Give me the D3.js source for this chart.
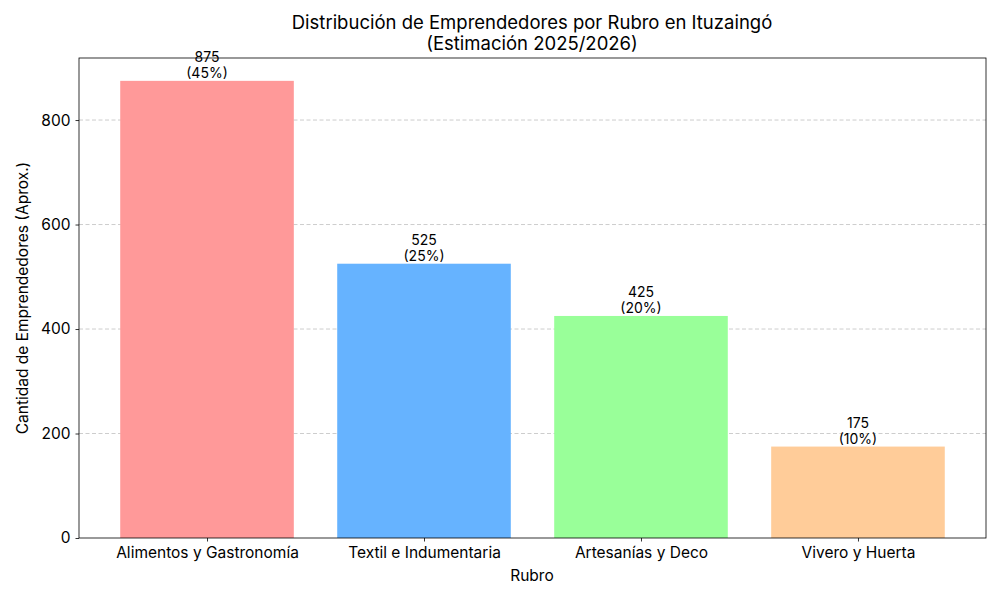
<!DOCTYPE html>
<html><head><meta charset="utf-8">
<script src="https://cdn.jsdelivr.net/npm/d3@7"></script>
<style>body{margin:0;background:#fff;} text{font-family:Inter,"Open Sans",sans-serif;fill:#000;}</style>
</head><body>
<svg id="c" width="1000" height="600"></svg>
<script>
const categories = ["Alimentos y Gastronomía","Textil e Indumentaria","Artesanías y Deco","Vivero y Huerta"];
const values = [875, 525, 425, 175];
const percents = ["45%","25%","20%","10%"];
const colors = ["#ff9999","#66b3ff","#99ff99","#ffcc99"];
const yTicks = [0,200,400,600,800];

const svg = d3.select("#c");
const L=79, R=986, T=58, B=538;
const x = d3.scaleLinear().domain([-0.59, 3.59]).range([L,R]);
const y = d3.scaleLinear().domain([0, 918.75]).range([B,T]);
const bw = x(0.4)-x(-0.4);

// grid
svg.append("g").selectAll("line").data(yTicks.filter(d=>d>0)).join("line")
  .attr("x1",L).attr("x2",R).attr("y1",d=>y(d)).attr("y2",d=>y(d))
  .attr("stroke","#c0c0c0").attr("stroke-width",0.8).attr("stroke-dasharray","4,2.5");

// bars
svg.append("g").selectAll("rect").data(values).join("rect")
  .attr("x",(d,i)=>x(i)-bw/2).attr("width",bw)
  .attr("y",d=>y(d)).attr("height",d=>B-y(d))
  .attr("fill",(d,i)=>colors[i]);

// bar labels
const lab = svg.append("g").selectAll("text").data(values).join("text")
  .attr("text-anchor","middle").attr("font-size",14);
lab.append("tspan").attr("x",(d,i)=>x(i)).attr("y",d=>y(d)-19).text(d=>d);
lab.append("tspan").attr("x",(d,i)=>x(i)).attr("y",d=>y(d)-3).text((d,i)=>"("+percents[i]+")");

// axes
const ya = svg.append("g").attr("transform",`translate(${L},0)`)
  .call(d3.axisLeft(y).tickValues(yTicks).tickSize(3.5).tickPadding(5));
const xa = svg.append("g").attr("transform",`translate(0,${B})`)
  .call(d3.axisBottom(x).tickValues([0,1,2,3]).tickFormat(i=>categories[i]).tickSize(3.5).tickPadding(5));
[ya,xa].forEach(a=>{a.select(".domain").remove(); a.selectAll("text").attr("font-size",15.5).style("font-family","Inter,'Open Sans',sans-serif").attr("fill","#000"); a.selectAll("line").attr("stroke","#000").attr("stroke-width",0.8);});

// frame
svg.append("rect").attr("x",L).attr("y",T).attr("width",R-L).attr("height",B-T)
  .attr("fill","none").attr("stroke","#000").attr("stroke-width",0.8);

// titles
svg.append("text").attr("x",532).attr("y",29).attr("text-anchor","middle").attr("font-size",18.5).text("Distribución de Emprendedores por Rubro en Ituzaingó");
svg.append("text").attr("x",532).attr("y",50).attr("text-anchor","middle").attr("font-size",18.5).text("(Estimación 2025/2026)");
svg.append("text").attr("x",532).attr("y",581).attr("text-anchor","middle").attr("font-size",15.5).text("Rubro");
svg.append("text").attr("transform","translate(28,298) rotate(-90)").attr("text-anchor","middle").attr("font-size",15.5).text("Cantidad de Emprendedores (Aprox.)");
</script>
</body></html>
